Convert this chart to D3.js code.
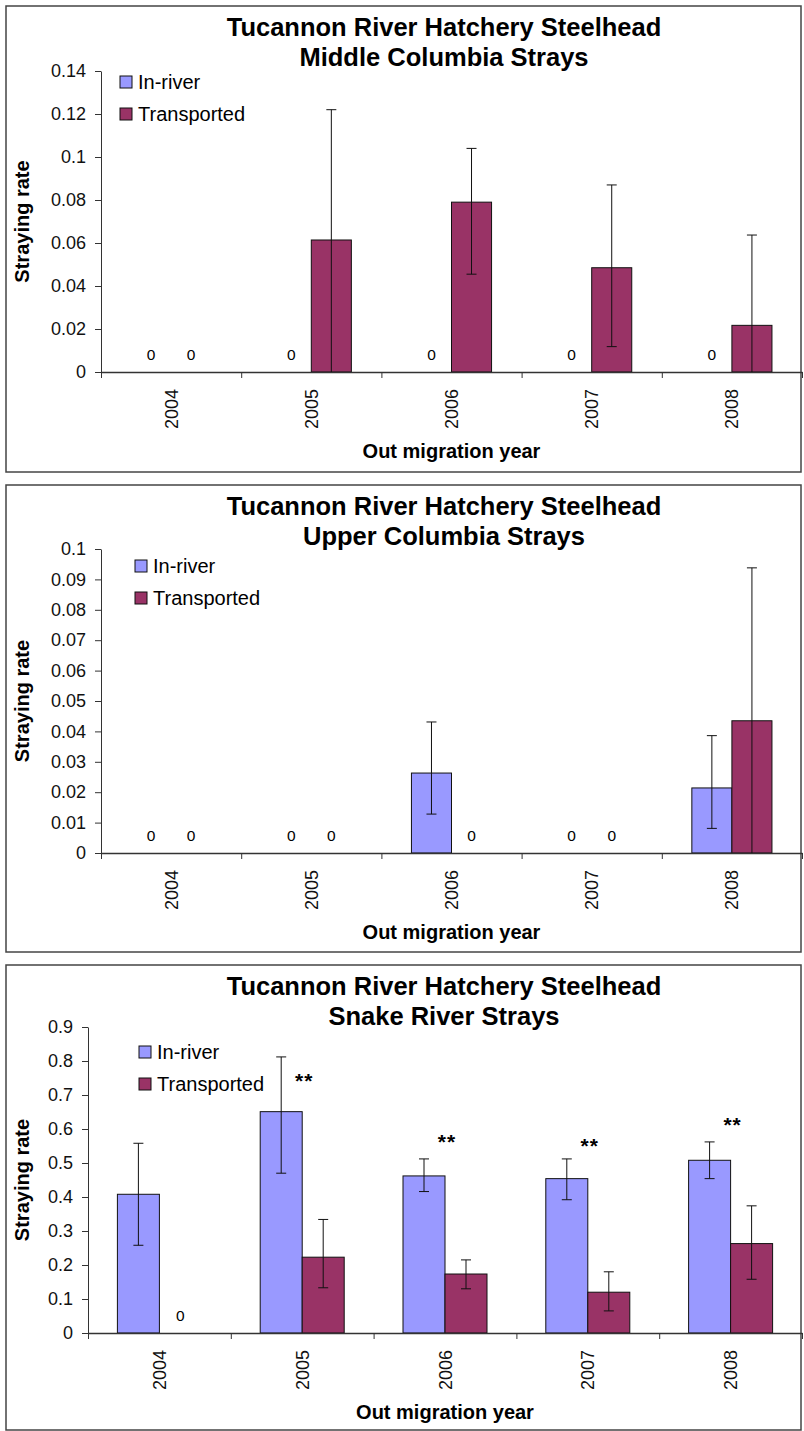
<!DOCTYPE html>
<html>
<head>
<meta charset="utf-8">
<script src="https://cdn.jsdelivr.net/npm/d3@7"></script>
<style>
  html, body { margin: 0; padding: 0; background: #fff; }
  svg { display: block; font-family: Arial, "Liberation Sans", sans-serif; }
</style>
</head>
<body>
<svg id="chart" width="804" height="1431"></svg>
<script>
// ---------------- DATA ----------------
const years = ["2004", "2005", "2006", "2007", "2008"];
const seriesNames = ["In-river", "Transported"];
const titleLine1 = "Tucannon River Hatchery Steelhead";

// Panel 1: Middle Columbia Strays
const mcTitle = "Middle Columbia Strays";
const mcInriver = [0, 0, 0, 0, 0];
const mcInriverHi = [null, null, null, null, null];
const mcInriverLo = [null, null, null, null, null];
const mcTransported = [0, 0.0614, 0.079, 0.0485, 0.0217];
const mcTransportedHi = [null, 0.122, 0.104, 0.087, 0.0637];
const mcTransportedLo = [null, 0, 0.0455, 0.0118, 0];
const mcTicks = [0, 0.02, 0.04, 0.06, 0.08, 0.1, 0.12, 0.14];

// Panel 2: Upper Columbia Strays
const ucTitle = "Upper Columbia Strays";
const ucInriver = [0, 0, 0.0263, 0, 0.0214];
const ucInriverHi = [null, null, 0.0431, null, 0.0386];
const ucInriverLo = [null, null, 0.0128, null, 0.0081];
const ucTransported = [0, 0, 0, 0, 0.0435];
const ucTransportedHi = [null, null, null, null, 0.0938];
const ucTransportedLo = [null, null, null, null, 0];
const ucTicks = [0, 0.01, 0.02, 0.03, 0.04, 0.05, 0.06, 0.07, 0.08, 0.09, 0.1];

// Panel 3: Snake River Strays
const srTitle = "Snake River Strays";
const srInriver = [0.408, 0.651, 0.462, 0.454, 0.508];
const srInriverHi = [0.558, 0.812, 0.512, 0.512, 0.562];
const srInriverLo = [0.258, 0.470, 0.416, 0.392, 0.454];
const srTransported = [0, 0.223, 0.1735, 0.120, 0.263];
const srTransportedHi = [null, 0.334, 0.215, 0.180, 0.374];
const srTransportedLo = [null, 0.133, 0.130, 0.065, 0.158];
const srSignif = ["", "**", "**", "**", "**"];
const srSignifAt = [null, 0.75, 0.57, 0.56, 0.62];
const srTicks = [0, 0.1, 0.2, 0.3, 0.4, 0.5, 0.6, 0.7, 0.8, 0.9];

const xAxisTitle = "Out migration year";
const yAxisTitle = "Straying rate";

// ---------------- STYLE / LAYOUT ----------------
const colors = { "In-river": "#9999FF", "Transported": "#993366" };

const panels = [
  { title2: mcTitle, inr: mcInriver, inrHi: mcInriverHi, inrLo: mcInriverLo,
    tr: mcTransported, trHi: mcTransportedHi, trLo: mcTransportedLo, ticks: mcTicks,
    frame: [6, 6, 801, 472], plot: { x0: 101, x1: 802, yTop: 71, yBot: 372 }, outerPad: 0.75,
    legend: { x: 120, y: 76 } },
  { title2: ucTitle, inr: ucInriver, inrHi: ucInriverHi, inrLo: ucInriverLo,
    tr: ucTransported, trHi: ucTransportedHi, trLo: ucTransportedLo, ticks: ucTicks,
    frame: [6, 485, 801, 952], plot: { x0: 101, x1: 802, yTop: 549, yBot: 853 }, outerPad: 0.75,
    legend: { x: 135, y: 560 } },
  { title2: srTitle, inr: srInriver, inrHi: srInriverHi, inrLo: srInriverLo,
    tr: srTransported, trHi: srTransportedHi, trLo: srTransportedLo, ticks: srTicks,
    signif: srSignif, signifAt: srSignifAt,
    frame: [6, 965, 801, 1430], plot: { x0: 88, x1: 802, yTop: 1027, yBot: 1333 }, outerPad: 0.7,
    legend: { x: 139, y: 1046 } }
];

const svg = d3.select("#chart");

panels.forEach(p => {
  const g = svg.append("g");
  const [fx0, fy0, fx1, fy1] = p.frame;
  const { x0, x1, yTop, yBot } = p.plot;

  // frame
  g.append("rect")
    .attr("x", fx0).attr("y", fy0)
    .attr("width", fx1 - fx0).attr("height", fy1 - fy0)
    .attr("fill", "#fff").attr("stroke", "#444").attr("stroke-width", 1.5);

  // titles
  const tcx = 444;
  g.append("text").attr("x", tcx).attr("y", fy0 + 29.5)
    .attr("text-anchor", "middle").attr("font-size", 25.5).attr("font-weight", "bold")
    .text(titleLine1);
  g.append("text").attr("x", tcx).attr("y", fy0 + 59.5)
    .attr("text-anchor", "middle").attr("font-size", 25.5).attr("font-weight", "bold")
    .text(p.title2);

  // scales
  const yMax = p.ticks[p.ticks.length - 1];
  const y = d3.scaleLinear().domain([0, yMax]).range([yBot, yTop]);
  const x = d3.scaleBand().domain(years).range([x0, x1]).paddingInner(0).paddingOuter(0);
  const xs = d3.scaleBand().domain(seriesNames).range([0, x.bandwidth()])
    .paddingInner(0).paddingOuter(p.outerPad);

  // y axis
  const yAxis = d3.axisLeft(y).tickValues(p.ticks).tickSize(6).tickSizeOuter(0).tickPadding(9)
    .tickFormat(d3.format("~g"));
  const ya = g.append("g").attr("transform", `translate(${x0},0)`).call(yAxis);
  ya.select(".domain").attr("stroke", "#333");
  ya.selectAll(".tick line").attr("stroke", "#333");
  ya.selectAll(".tick text").attr("font-size", 18).attr("font-family", "Arial, 'Liberation Sans', sans-serif").attr("fill", "#111");

  // bars
  const rows = [];
  years.forEach((yr, i) => {
    rows.push({ yr, s: "In-river", v: p.inr[i], hi: p.inrHi[i], lo: p.inrLo[i] });
    rows.push({ yr, s: "Transported", v: p.tr[i], hi: p.trHi[i], lo: p.trLo[i] });
  });
  const barW = xs.bandwidth();
  const gb = g.append("g");
  gb.selectAll("rect.bar").data(rows.filter(d => d.v > 0)).join("rect")
    .attr("class", "bar")
    .attr("x", d => x(d.yr) + xs(d.s))
    .attr("y", d => y(d.v))
    .attr("width", barW)
    .attr("height", d => y(0) - y(d.v))
    .attr("fill", d => colors[d.s])
    .attr("stroke", "#111").attr("stroke-width", 1);

  // zero labels
  gb.selectAll("text.zero").data(rows.filter(d => d.v === 0)).join("text")
    .attr("class", "zero")
    .attr("x", d => x(d.yr) + xs(d.s) + barW / 2)
    .attr("y", y(0) - 12)
    .attr("text-anchor", "middle").attr("font-size", 15.5).attr("fill", "#000")
    .text(d => d3.format("~g")(d.v));

  // x axis (category boundaries)
  const xb = d3.scaleLinear().domain([0, years.length]).range([x0, x1]);
  const xAxis = d3.axisBottom(xb).tickValues(d3.range(years.length + 1)).tickSize(6)
    .tickSizeOuter(0).tickFormat("");
  const xa = g.append("g").attr("transform", `translate(0,${yBot})`).call(xAxis);
  xa.select(".domain").attr("stroke", "#333").attr("stroke-width", 1.3);
  xa.selectAll(".tick line").attr("stroke", "#333");

  // year labels, rotated
  g.selectAll("text.year").data(years).join("text")
    .attr("class", "year")
    .attr("transform", d => `translate(${x(d) + x.bandwidth() / 2 + 6.5},${yBot + 17}) rotate(-90)`)
    .attr("text-anchor", "end").attr("font-size", 18).attr("fill", "#111")
    .text(d => d);

  // error bars
  const errRows = rows.filter(d => d.hi != null);
  const ge = g.append("g").attr("stroke", "#111").attr("stroke-width", 1);
  errRows.forEach(d => {
    const cx = x(d.yr) + xs(d.s) + barW / 2;
    ge.append("line").attr("x1", cx).attr("x2", cx)
      .attr("y1", y(d.hi)).attr("y2", y(Math.max(0, d.lo)));
    ge.append("line").attr("x1", cx - 5).attr("x2", cx + 5)
      .attr("y1", y(d.hi)).attr("y2", y(d.hi));
    if (d.lo > 0) {
      ge.append("line").attr("x1", cx - 5).attr("x2", cx + 5)
        .attr("y1", y(d.lo)).attr("y2", y(d.lo));
    }
  });

  // significance marks
  if (p.signif) {
    years.forEach((yr, i) => {
      if (!p.signif[i]) return;
      g.append("text")
        .attr("x", x(yr) + x.bandwidth() / 2 + 2)
        .attr("y", y(p.signifAt[i]) + 10)
        .attr("text-anchor", "middle").attr("font-size", 21).attr("font-weight", "bold")
        .attr("letter-spacing", 1)
        .text(p.signif[i]);
    });
  }

  // legend
  seriesNames.forEach((s, i) => {
    const ly = p.legend.y + i * 32;
    g.append("rect").attr("x", p.legend.x).attr("y", ly).attr("width", 12).attr("height", 12)
      .attr("fill", colors[s]).attr("stroke", "#111").attr("stroke-width", 1);
    g.append("text").attr("x", p.legend.x + 18).attr("y", ly + 13)
      .attr("font-size", 20).attr("fill", "#000").text(s);
  });

  // axis titles
  g.append("text")
    .attr("transform", `translate(29,${(yTop + yBot) / 2}) rotate(-90)`)
    .attr("text-anchor", "middle").attr("font-size", 20).attr("font-weight", "bold")
    .text(yAxisTitle);
  g.append("text")
    .attr("x", (x0 + x1) / 2).attr("y", yBot + 86)
    .attr("text-anchor", "middle").attr("font-size", 20).attr("font-weight", "bold")
    .text(xAxisTitle);
});
</script>
</body>
</html>
